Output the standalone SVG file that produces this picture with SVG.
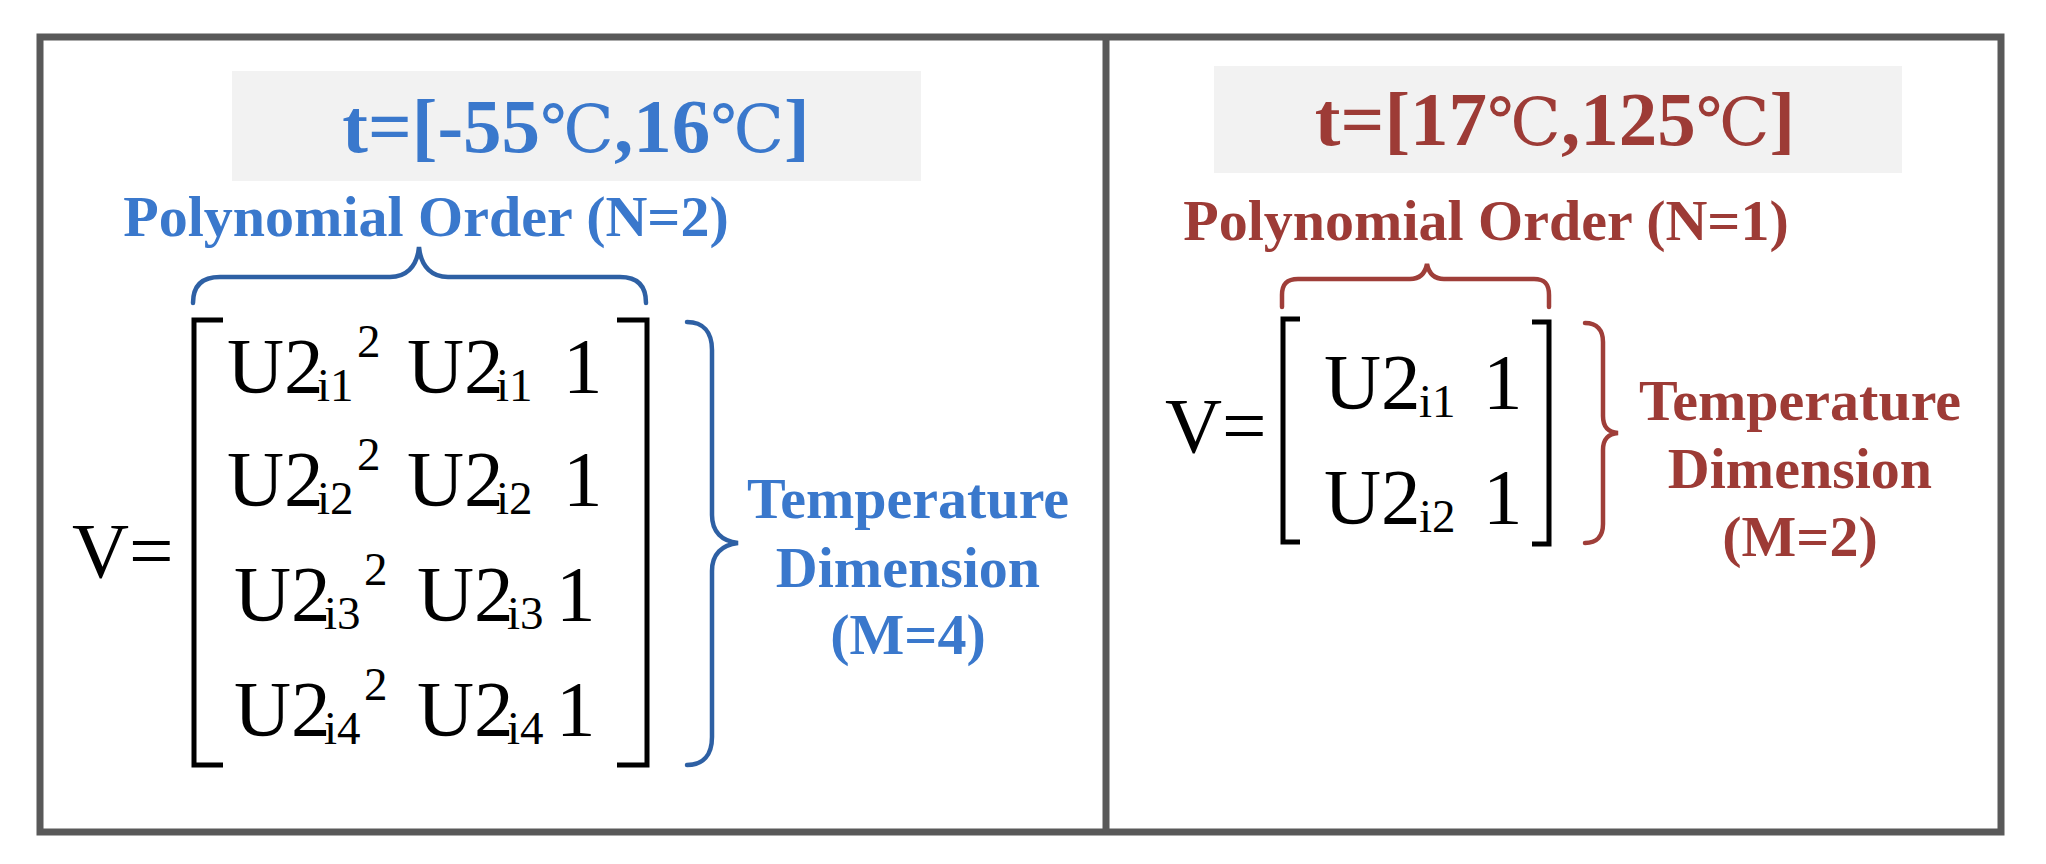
<svg xmlns="http://www.w3.org/2000/svg" width="2046" height="864" viewBox="0 0 2046 864">
<style>
.frame{fill:none;stroke:#595959;stroke-width:7;stroke-linejoin:miter}
.tbox{fill:#F2F2F2}
.title{font-family:"Liberation Serif","Noto Sans CJK SC",serif;font-weight:bold;font-size:77px;text-anchor:middle}
.deg{font-family:"DejaVu Serif","Noto Sans CJK SC",serif;font-weight:normal;font-size:66px}
.lbl{font-family:"Liberation Serif",serif;font-weight:bold;font-size:58px;text-anchor:middle}
.blue{fill:#3A78CC}
.red{fill:#9D3B36}
.m{font-family:"Liberation Serif",serif;font-size:79px;fill:#000}
.s{font-family:"Liberation Serif",serif;font-size:47px;fill:#000}
.brk{fill:none;stroke:#000;stroke-width:5}
.bb{fill:none;stroke:#2E60A4;stroke-width:4.5;stroke-linecap:round}
.rb{fill:none;stroke:#9F3E39;stroke-width:4.5;stroke-linecap:round}
</style>
<rect x="0" y="0" width="2046" height="864" fill="#FFFFFF"/>
<g id="frame">
<rect class="frame" x="40" y="37" width="1961" height="795"/>
<line class="frame" x1="1106" y1="37" x2="1106" y2="832"/>
</g>
<g id="left-title">
<rect class="tbox" x="232" y="71" width="689" height="110"/>
<text class="title blue" x="576" y="152">t=[-55<tspan class="deg">℃</tspan>,16<tspan class="deg">℃</tspan>]</text>
</g>
<g id="left-order">
<text class="lbl blue" x="426" y="236">Polynomial Order (N=2)</text>
</g>
<g id="left-matrix">
<text class="m" x="72" y="577">V=</text>
<path class="brk" d="M223,320 L194,320 L194,765 L223,765"/>
<path class="brk" d="M617,320 L647,320 L647,765 L617,765"/>
<text class="m" x="227" y="392">U2</text><text class="s" x="317" y="401">i1</text><text class="s" x="357" y="357">2</text>
<text class="m" x="407" y="392">U2</text><text class="s" x="496" y="401">i1</text><text class="m" x="563" y="392">1</text>
<text class="m" x="227" y="505">U2</text><text class="s" x="317" y="514">i2</text><text class="s" x="357" y="470">2</text>
<text class="m" x="407" y="505">U2</text><text class="s" x="496" y="514">i2</text><text class="m" x="563" y="505">1</text>
<text class="m" x="234" y="620">U2</text><text class="s" x="324" y="629">i3</text><text class="s" x="364" y="585">2</text>
<text class="m" x="417" y="620">U2</text><text class="s" x="507" y="629">i3</text><text class="m" x="556" y="620">1</text>
<text class="m" x="234" y="735">U2</text><text class="s" x="324" y="744">i4</text><text class="s" x="364" y="700">2</text>
<text class="m" x="417" y="735">U2</text><text class="s" x="507" y="744">i4</text><text class="m" x="556" y="735">1</text>
</g>
<g id="left-temp">
<text class="lbl blue" x="908" y="518">Temperature</text>
<text class="lbl blue" x="908" y="587">Dimension</text>
<text class="lbl blue" x="908" y="654">(M=4)</text>
</g>
<g id="right-title">
<rect class="tbox" x="1214" y="66" width="688" height="107"/>
<text class="title red" x="1555" y="145">t=[17<tspan class="deg">℃</tspan>,125<tspan class="deg">℃</tspan>]</text>
</g>
<g id="right-order">
<text class="lbl red" x="1486" y="240">Polynomial Order (N=1)</text>
</g>
<g id="right-matrix">
<text class="m" x="1165" y="452">V=</text>
<path class="brk" d="M1300,319 L1283,319 L1283,542 L1300,542"/>
<path class="brk" d="M1532,322 L1549,322 L1549,544 L1532,544"/>
<text class="m" x="1324" y="408">U2</text><text class="s" x="1419" y="417">i1</text><text class="m" x="1483" y="408">1</text>
<text class="m" x="1324" y="523">U2</text><text class="s" x="1419" y="532">i2</text><text class="m" x="1483" y="523">1</text>
</g>
<g id="right-temp">
<text class="lbl red" x="1800" y="420">Temperature</text>
<text class="lbl red" x="1800" y="488">Dimension</text>
<text class="lbl red" x="1800" y="556">(M=2)</text>
</g>
<g id="connectors">
<path class="bb" d="M193,303 C193,285 203,277 220,277 L390,277 C405,277 417,268 419,247 C421,268 433,277 448,277 L620,277 C637,277 646,285 646,303"/>
<path class="bb" d="M687,322 C703,322 712,332 712,350 L712,515 C712,532 722,541 738,543 C722,545 712,554 712,571 L712,737 C712,755 703,765 687,765"/>
<path class="rb" d="M1282,307 L1282,295 C1282,284 1287,279 1298,279 L1410,279 C1420,279 1425,274 1427,264 C1429,274 1434,279 1444,279 L1534,279 C1545,279 1549,284 1549,295 L1549,307"/>
<path class="rb" d="M1585,323 C1597,323 1603,330 1603,342 L1603,416 C1603,427 1608,432 1618,433 C1608,434 1603,439 1603,450 L1603,524 C1603,536 1597,543 1585,543"/>
</g>
</svg>
